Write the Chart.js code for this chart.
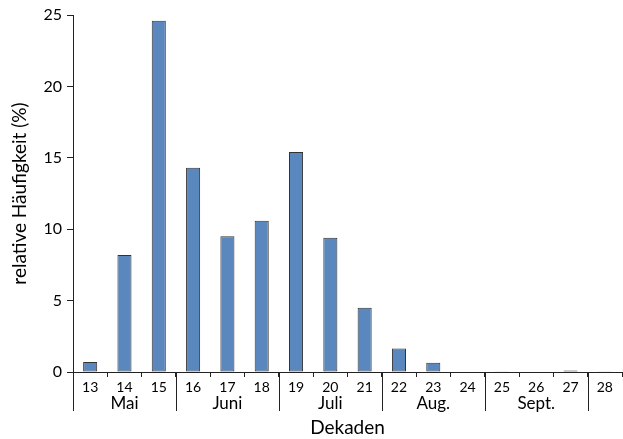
<!DOCTYPE html>
<html>
<head>
<meta charset="utf-8">
<script src="https://cdn.jsdelivr.net/npm/chart.js@4"></script>
<style>
  html, body { margin: 0; padding: 0; background: #fff; }
  #wrap { width: 623px; height: 439px; }
</style>
</head>
<body>
<div id="wrap"><canvas id="chart"></canvas></div>
<script>
// Data
const decades = ["13", "14", "15", "16", "17", "18", "19", "20", "21", "22", "23", "24", "25", "26", "27", "28"];
const frequency = [0.7, 8.2, 24.6, 14.3, 9.5, 10.6, 15.4, 9.4, 4.5, 1.65, 0.65, 0.03, 0.05, 0, 0.1, 0.02];
const months = ["Mai", "Juni", "Juli", "Aug.", "Sept."];
const monthStart = [0, 3, 6, 9, 12]; // first decade index of each month
const monthEnd = [2, 5, 8, 11, 14];
const yTicks = [0, 5, 10, 15, 20, 25];

const fontFamily = "Lato, 'Open Sans', sans-serif";
const textColor = "#000";

// month labels + long separator lines under the axis
const monthPlugin = {
  id: "months",
  afterDraw(chart) {
    const ctx = chart.ctx;
    const x = chart.scales.x;
    const half = (x.getPixelForValue(1) - x.getPixelForValue(0)) / 2;
    const y0 = chart.chartArea.bottom;
    ctx.save();
    ctx.strokeStyle = "#222";
    ctx.lineWidth = 1;
    const seps = monthStart.concat([monthEnd[monthEnd.length - 1] + 1]);
    seps.forEach(i => {
      const px = Math.round(x.getPixelForValue(i) - half) + 0.5;
      ctx.beginPath();
      ctx.moveTo(px, y0);
      ctx.lineTo(px, y0 + 39);
      ctx.stroke();
    });
    ctx.fillStyle = textColor;
    ctx.font = "17px " + fontFamily;
    ctx.textAlign = "center";
    ctx.textBaseline = "middle";
    months.forEach((m, k) => {
      const cx = (x.getPixelForValue(monthStart[k]) + x.getPixelForValue(monthEnd[k])) / 2;
      ctx.fillText(m, cx, y0 + 32);
    });
    ctx.restore();
  }
};

const ctx = document.getElementById("chart").getContext("2d");
const chart = new Chart(ctx, {
  type: "bar",
  data: {
    labels: decades,
    datasets: [
      {
        data: frequency,
        backgroundColor: "#5a87bd",
        borderColor: "#333333",
        borderWidth: 1,
        borderSkipped: false,
        barPercentage: 0.41,
        categoryPercentage: 1.0,
      },
    ],
  },
  options: {
    responsive: true,
    maintainAspectRatio: false,
    animation: false,
    devicePixelRatio: 1,
    layout: { padding: { top: 15, right: 1, left: 0, bottom: 0 } },
    plugins: {
      legend: { display: false },
      tooltip: { enabled: false },
    },
    scales: {
      x: {
        offset: true,
        grid: {
          offset: true,
          drawOnChartArea: false,
          tickLength: 5,
          color: "#222",
        },
        border: { color: "#222", width: 1 },
        ticks: {
          color: textColor,
          font: { size: 14, family: fontFamily },
          padding: 2,
          maxRotation: 0,
        },
        title: {
          display: true,
          text: "Dekaden",
          color: textColor,
          font: { size: 19, family: fontFamily },
          padding: { top: 21, bottom: 0 },
        },
        afterFit(scale) { scale.height = 67; },
      },
      y: {
        min: 0,
        max: 25,
        afterBuildTicks(scale) { scale.ticks = yTicks.map(v => ({ value: v })); },
        grid: {
          drawOnChartArea: false,
          tickLength: 6,
          color: "#222",
        },
        border: { color: "#222", width: 1 },
        ticks: {
          color: textColor,
          font: { size: 16, family: fontFamily },
          padding: 5,
        },
        title: {
          display: true,
          text: "relative Häufigkeit (%)",
          color: textColor,
          font: { size: 19, family: fontFamily },
          padding: { top: 8, bottom: 4 },
        },
        afterFit(scale) { scale.width = 73; },
      },
    },
  },
  plugins: [monthPlugin],
});
</script>
</body>
</html>
